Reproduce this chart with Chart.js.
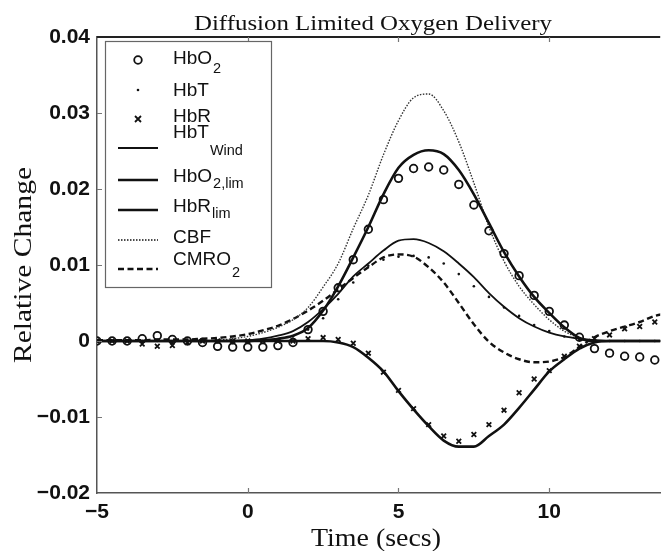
<!DOCTYPE html>
<html>
<head>
<meta charset="utf-8">
<script src="https://cdn.jsdelivr.net/npm/chart.js@4.4.1/dist/chart.umd.min.js"></script>
<style>
  body { margin: 0; background: #fff; }
  canvas { display: block; }
</style>
</head>
<body>
<canvas id="chart" width="666" height="551"></canvas>
<script>
// time grid (secs), every 0.5 s
const times = [-5, -4.5, -4, -3.5, -3, -2.5, -2, -1.5, -1, -0.5, 0, 0.5, 1, 1.5, 2, 2.5, 3, 3.5, 4, 4.5,
    5, 5.5, 6, 6.5, 7, 7.5, 8, 8.5, 9, 9.5, 10, 10.5, 11, 11.5, 12, 12.5, 13, 13.5, 14];

// measured (markers)
const hbO2 = [0, 0, 0, 0.0003, 0.0007, 0.0002, 0, -0.0002, -0.0007, -0.0008, -0.0008, -0.0008, -0.0006, -0.0002, 0.0015, 0.0039, 0.007, 0.0107, 0.0147, 0.0186,
    0.0214, 0.0227, 0.0229, 0.0225, 0.0206, 0.0179, 0.0145, 0.0115, 0.0086, 0.006, 0.0039, 0.0021, 0.0005, -0.001, -0.0016, -0.002, -0.0021, -0.0025, -0.0026];
const hbT = [0, 0, 0, 0, 0, -0.0002, 0, 0, -0.0002, -0.0003, -0.0002, 0, 0.0002, 0.0006, 0.0015, 0.003, 0.0055, 0.0077, 0.0099, 0.0107,
    0.0111, 0.0112, 0.011, 0.0102, 0.0088, 0.0072, 0.0058, 0.0044, 0.0033, 0.0021, 0.0013, 0.0006, 0.0002, 0.0001, 0, 0, 0, 0, 0];
const hbR = [0, 0, 0, -0.0004, -0.0007, -0.0006, -0.0002, 0, 0, 0, 0, 0, 0, 0, 0.0003, 0.00045, 0.0002, -0.0003, -0.0016, -0.0041,
    -0.0065, -0.0089, -0.011, -0.0125, -0.0132, -0.0123, -0.011, -0.0091, -0.0068, -0.005, -0.0039, -0.002, -0.0007, 0.0003, 0.0008, 0.0016, 0.0019, 0.0025, 0.0027];

// model curves
const hbTWind = [0, 0, 0, 0, 0, 0, 0, 0, 0, 0, 0.0001, 0.0003, 0.0007, 0.0013, 0.0025, 0.0042, 0.0062, 0.0085, 0.0102, 0.0119,
    0.0132, 0.0134, 0.0129, 0.0118, 0.0102, 0.0084, 0.0063, 0.0045, 0.003, 0.0019, 0.0011, 0.0006, 0.0003, 0.0001, 0, 0, 0, 0, 0];
const hbO2Lim = [0, 0, 0, 0, 0, 0, 0, 0, 0, 0, 0, 0.0001, 0.0003, 0.0007, 0.0017, 0.004, 0.0072, 0.011, 0.015, 0.0193,
    0.0228, 0.0245, 0.0251, 0.0246, 0.0225, 0.0193, 0.0155, 0.0117, 0.0085, 0.0058, 0.0037, 0.0018, 0.0004, 0, 0, 0, 0, 0, 0];
const hbRLim = [0, 0, 0, 0, 0, 0, 0, 0, 0, 0, 0, 0, 0, 0, 0, 0, -0.0002, -0.0008, -0.0022, -0.004,
    -0.0066, -0.009, -0.0112, -0.0131, -0.0139, -0.0139, -0.0125, -0.011, -0.0088, -0.0064, -0.004, -0.0024, -0.001, -0.0002, 0, 0, 0, 0, 0];
const cbf = [0, 0, 0, 0, 0, 0, 0, 0, 0.0001, 0.0003, 0.0006, 0.0011, 0.0018, 0.0028, 0.0044, 0.0071, 0.0102, 0.0148, 0.0192, 0.0245,
    0.029, 0.032, 0.0325, 0.0303, 0.0262, 0.0208, 0.015, 0.0105, 0.0072, 0.0048, 0.0028, 0.0013, 0.0004, 0, 0, 0, 0, 0, 0];
const cmro2 = [0.0001, 0.0001, 0.0001, 0.0001, 0.0002, 0.0002, 0.0002, 0.0003, 0.0004, 0.0006, 0.0009, 0.0014, 0.002, 0.0029, 0.004, 0.0053, 0.0068, 0.0083, 0.0097, 0.011,
    0.0114, 0.0111, 0.0097, 0.0077, 0.005, 0.0022, -0.0001, -0.0015, -0.0024, -0.0028, -0.0027, -0.0021, -0.0008, 0.0005, 0.0013, 0.0019, 0.0025, 0.0033, 0.0037];

const xTicks = [-5, 0, 5, 10];
const yTicks = [0.04, 0.03, 0.02, 0.01, 0, -0.01, -0.02];

const pts = arr => arr.map((v, i) => ({ x: times[i], y: v }));
const minus = s => String(s).replace("-", "\u2212");

// legend: [main text, subscript, kind, main baseline, sub baseline, symbol y]
const legendRows = [
    ["HbO", "2", "circle", 64, 73, 60],
    ["HbT", "", "dot", 96, 0, 90],
    ["HbR", "", "cross", 122, 0, 119],
    ["HbT", "Wind", "line", 138, 155, 148],
    ["HbO", "2,lim", "lineThick", 182, 188, 180],
    ["HbR", "lim", "lineThick", 212, 218, 210],
    ["CBF", "", "dotted", 243, 0, 240],
    ["CMRO", "2", "dashed", 265, 277, 269]
];

// draw text stretched to a given width
function fitText(ctx, text, cx, cy, width) {
    const w = ctx.measureText(text).width;
    ctx.save();
    ctx.translate(cx, cy);
    ctx.scale(width / w, 1);
    ctx.fillText(text, 0, 0);
    ctx.restore();
}

const extras = {
    id: "extras",
    afterDraw(chart) {
        const { ctx, chartArea: a, scales } = chart;
        const x = scales.x, y = scales.y;
        ctx.save();

        // top frame line
        ctx.strokeStyle = "#222";
        ctx.lineWidth = 2;
        ctx.beginPath();
        ctx.moveTo(a.left, a.top);
        ctx.lineTo(a.right, a.top);
        ctx.stroke();

        // inward ticks
        ctx.strokeStyle = "#777";
        ctx.lineWidth = 1.2;
        ctx.beginPath();
        xTicks.slice(1).forEach(t => {
            const px = Math.round(x.getPixelForValue(t)) + 0.5;
            ctx.moveTo(px, a.top); ctx.lineTo(px, a.top + 5);
            ctx.moveTo(px, a.bottom); ctx.lineTo(px, a.bottom - 5);
        });
        yTicks.slice(1, -1).forEach(t => {
            const py = Math.round(y.getPixelForValue(t)) + 0.5;
            ctx.moveTo(a.left, py); ctx.lineTo(a.left + 5, py);
        });
        ctx.stroke();

        // titles
        ctx.fillStyle = "#111";
        ctx.textAlign = "center";
        ctx.textBaseline = "alphabetic";
        ctx.font = "22px 'Liberation Serif'";
        fitText(ctx, "Diffusion Limited Oxygen Delivery", 373, 30, 358);
        ctx.font = "25px 'Liberation Serif'";
        fitText(ctx, "Time (secs)", 376, 546, 130);
        ctx.save();
        ctx.translate(31, 265);
        ctx.rotate(-Math.PI / 2);
        ctx.font = "25px 'Liberation Serif'";
        fitText(ctx, "Relative Change", 0, 0, 196);
        ctx.restore();

        // legend box
        ctx.fillStyle = "#fff";
        ctx.fillRect(105, 41, 167, 247);
        ctx.strokeStyle = "#666";
        ctx.lineWidth = 1.2;
        ctx.strokeRect(105.5, 41.5, 166, 246);

        ctx.textAlign = "left";
        legendRows.forEach(([main, sub, kind, by, sy, my]) => {
            ctx.strokeStyle = "#111";
            ctx.fillStyle = "#111";
            ctx.setLineDash([]);
            if (kind === "circle") {
                ctx.lineWidth = 1.8;
                ctx.beginPath(); ctx.arc(138, my, 3.8, 0, Math.PI * 2); ctx.stroke();
            } else if (kind === "dot") {
                ctx.beginPath(); ctx.arc(138, my, 1.3, 0, Math.PI * 2); ctx.fill();
            } else if (kind === "cross") {
                ctx.lineWidth = 1.8;
                ctx.beginPath();
                ctx.moveTo(135, my - 3); ctx.lineTo(141, my + 3);
                ctx.moveTo(141, my - 3); ctx.lineTo(135, my + 3);
                ctx.stroke();
            } else {
                ctx.lineWidth = kind === "line" ? 1.8 : kind === "lineThick" ? 2.6 : kind === "dotted" ? 1.4 : 2.6;
                if (kind === "dotted") ctx.setLineDash([1.5, 1.5]);
                if (kind === "dashed") ctx.setLineDash([6, 3.5]);
                ctx.beginPath(); ctx.moveTo(118, my); ctx.lineTo(158, my); ctx.stroke();
                ctx.setLineDash([]);
            }
            ctx.font = "19px 'Liberation Sans'";
            ctx.fillText(main, 173, by);
            if (sub) {
                const w = ctx.measureText(main).width;
                ctx.font = "14.5px 'Liberation Sans'";
                ctx.fillText(sub, 173 + w + 1, sy);
            }
        });
        ctx.restore();
    }
};

new Chart(document.getElementById("chart"), {
    type: "line",
    data: {
        datasets: [
            { label: "HbO2", data: pts(hbO2), showLine: false, pointStyle: "circle", pointRadius: 3.8,
              pointBorderWidth: 1.8, pointBorderColor: "#111", pointBackgroundColor: "rgba(255,255,255,0)" },
            { label: "HbT", data: pts(hbT), showLine: false, pointStyle: "circle", pointRadius: 1.3,
              pointBorderWidth: 0, pointBackgroundColor: "#111" },
            { label: "HbR", data: pts(hbR), showLine: false, pointStyle: "crossRot", pointRadius: 3.3,
              pointBorderWidth: 1.8, pointBorderColor: "#111" },
            { label: "HbTWind", data: pts(hbTWind), borderColor: "#111", borderWidth: 1.8, pointRadius: 0 },
            { label: "HbO2,lim", data: pts(hbO2Lim), borderColor: "#111", borderWidth: 2.6, pointRadius: 0 },
            { label: "HbRlim", data: pts(hbRLim), borderColor: "#111", borderWidth: 2.6, pointRadius: 0 },
            { label: "CBF", data: pts(cbf), borderColor: "#333", borderWidth: 1.4, borderDash: [1.5, 1.5], pointRadius: 0 },
            { label: "CMRO2", data: pts(cmro2), borderColor: "#111", borderWidth: 2.4, borderDash: [6, 3.5], pointRadius: 0 }
        ]
    },
    options: {
        responsive: false,
        animation: false,
        devicePixelRatio: 1,
        layout: { padding: { top: 37, right: 0, left: 0, bottom: 0 } },
        elements: { line: { cubicInterpolationMode: "monotone", fill: false } },
        plugins: { legend: { display: false }, title: { display: false }, tooltip: { enabled: false } },
        scales: {
            x: {
                type: "linear",
                min: -5,
                max: 13.68,
                afterFit: s => { s.height = 58; },
                grid: { display: false, drawTicks: false },
                border: { display: true, color: "#555", width: 1.5 },
                afterBuildTicks: s => { s.ticks = xTicks.map(v => ({ value: v })); },
                ticks: {
                    padding: 7,
                    color: "#111",
                    font: { family: "'Liberation Sans'", size: 21, weight: "bold" },
                    callback: v => minus(v)
                }
            },
            y: {
                min: -0.02,
                max: 0.04,
                afterFit: s => { s.width = 97; },
                grid: { display: false, drawTicks: false },
                border: { display: true, color: "#555", width: 1.5 },
                afterBuildTicks: s => { s.ticks = yTicks.map(v => ({ value: v })); },
                ticks: {
                    padding: 7,
                    color: "#111",
                    font: { family: "'Liberation Sans'", size: 21, weight: "bold" },
                    callback: v => minus(Math.round(v * 100) / 100)
                }
            }
        }
    },
    plugins: [extras]
});
</script>
</body>
</html>
